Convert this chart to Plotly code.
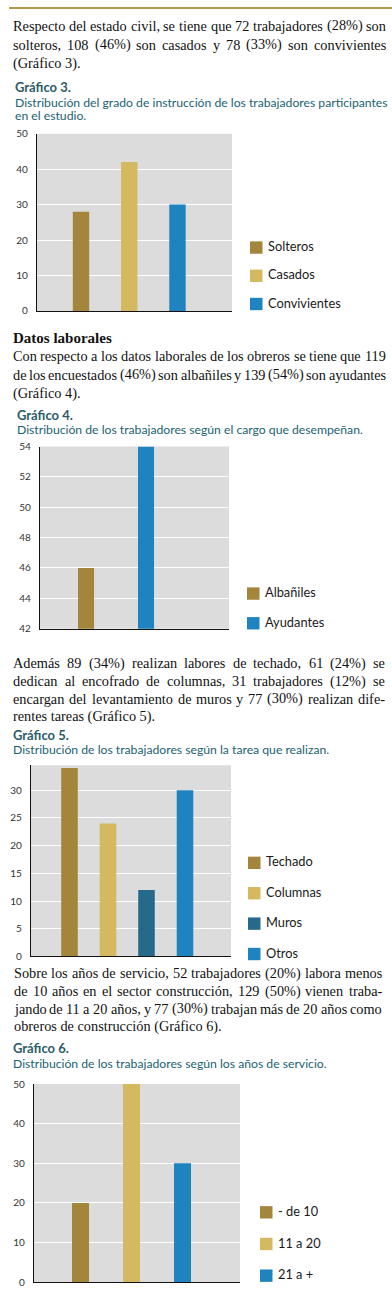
import plotly.graph_objects as go

# ---------------- data ----------------
cats3 = ["Solteros", "Casados", "Convivientes"]
vals3 = [28, 42, 30]
cats4 = ["Albañiles", "Ayudantes"]
vals4 = [46, 54]
cats5 = ["Techado", "Columnas", "Muros", "Otros"]
vals5 = [34, 24, 12, 30]
cats6 = ["- de 10", "11 a 20", "21 a +"]
vals6 = [20, 50, 30]

ticks3 = [0, 10, 20, 30, 40, 50]
ticks4 = [42, 44, 46, 48, 50, 52, 54]
ticks5 = [0, 5, 10, 15, 20, 25, 30]
ticks6 = [0, 10, 20, 30, 40, 50]

p1 = ["Respecto del estado civil, se tiene que 72 trabajadores (28%) son",
      "solteros, 108  (46%) son casados y 78 (33%) son convivientes",
      "(Gráfico 3)."]
p2 = ["Con respecto a los datos laborales de los obreros se tiene que 119",
      "de los encuestados (46%) son albañiles y 139 (54%) son ayudantes",
      "(Gráfico 4)."]
p3 = ["Además 89 (34%) realizan labores de techado, 61 (24%) se",
      "dedican al encofrado de columnas, 31 trabajadores (12%) se",
      "encargan del levantamiento de muros y 77 (30%) realizan dife-",
      "rentes tareas (Gráfico 5)."]
p4 = ["Sobre los años de servicio, 52 trabajadores (20%) labora menos",
      "de 10 años en el sector construcción, 129 (50%) vienen traba-",
      "jando de 11 a 20 años, y 77 (30%) trabajan más de 20 años como",
      "obreros de construcción (Gráfico 6)."]

titles = ["Gráfico 3.", "Gráfico 4.", "Gráfico 5.", "Gráfico 6."]
subtitles = [["Distribución del grado de instrucción de los trabajadores participantes",
              "en el estudio."],
             ["Distribución de los trabajadores según el cargo que desempeñan."],
             ["Distribución de los trabajadores según la tarea que realizan."],
             ["Distribución de los trabajadores según los años de servicio."]]

# ---------------- style ----------------
W, H = 392, 1298
BROWN = "#a3853c"
GOLD = "#d4b961"
BLUE = "#1e83bf"
TEAL = "#27698a"
BG = "#dcdcdd"
SERIF = "Liberation Serif"
SANS = "Lato"
TITLE_C = "#2c5b67"
SUB_C = "#1b6272"
TXT = "#111111"

colors3 = [BROWN, GOLD, BLUE]
colors4 = [BROWN, BLUE]
colors5 = [BROWN, GOLD, TEAL, BLUE]
colors6 = [BROWN, GOLD, BLUE]

# Times metric widths (per 1000 em) used to justify the paragraph lines
TW = {' ': 250, 'a': 444, 'b': 500, 'c': 444, 'd': 500, 'e': 444, 'f': 333, 'g': 500,
      'h': 500, 'i': 278, 'j': 278, 'k': 500, 'l': 278, 'm': 778, 'n': 500, 'o': 500,
      'p': 500, 'q': 500, 'r': 333, 's': 389, 't': 278, 'u': 500, 'v': 500, 'w': 722,
      'x': 500, 'y': 500, 'z': 444, 'á': 444, 'é': 444, 'í': 278, 'ó': 500, 'ú': 500,
      'ñ': 500, '(': 333, ')': 333, '%': 833, ',': 250, '.': 250, '-': 333,
      'A': 722, 'B': 667, 'C': 667, 'D': 722, 'E': 611, 'F': 556, 'G': 722, 'H': 722,
      'I': 333, 'J': 389, 'K': 722, 'L': 611, 'M': 889, 'N': 722, 'O': 722, 'P': 556,
      'Q': 722, 'R': 667, 'S': 556, 'T': 611, 'U': 722, 'V': 722, 'W': 944, 'X': 722,
      'Y': 722, 'Z': 611}


def tw(s, size):
    return sum(TW.get(ch, 500) for ch in s) * size / 1000.0


def px(x):
    return x / W


def py(y):
    return 1 - y / H


annotations = []
shapes = []


def add_text(text, x, y, size, family, color, bold=False):
    if bold:
        text = "<b>" + text + "</b>"
    annotations.append(dict(text=text, x=px(x), y=py(y), xref="paper", yref="paper",
                            xanchor="left", yanchor="middle", showarrow=False,
                            borderpad=0, font=dict(size=size, family=family, color=color)))


def add_paragraph(lines, y0, dy, left, right, size=14.3):
    for i, line in enumerate(lines):
        y = y0 + i * dy
        if i == len(lines) - 1:
            add_text(line, left, y, size, SERIF, TXT)
            continue
        words = line.split()
        widths = [tw(w, size) for w in words]
        gap = (right - left - sum(widths)) / (len(words) - 1)
        x = left
        for w, wd in zip(words, widths):
            add_text(w, x, y, size, SERIF, TXT)
            x += wd + gap


add_paragraph(p1, 19, 19, 12, 385)
add_text("Datos laborales", 12, 334, 15, SERIF, TXT, bold=True)
add_paragraph(p2, 353, 18.7, 12, 385)
add_paragraph(p3, 663, 18, 12, 384)
add_paragraph(p4, 976, 18, 13, 381)

title_y = [81, 412, 735, 1052]
title_x = [14, 16, 12, 12]
for t, ty, tx, subs in zip(titles, title_y, title_x, subtitles):
    add_text(t, tx, ty, 13, SANS, TITLE_C, bold=True)
    for j, s in enumerate(subs):
        add_text(s, tx, ty + 15 + 14 * j, 12.2, SANS, SUB_C)

# chart geometry: (x0, x1, ytop, ybottom)
geo = [(37, 232, 128, 307), (40, 229, 444, 628), (31, 231, 766, 959), (34, 240, 1088, 1288)]
xranges = [[-0.912, 3.13], [-0.767, 2.383], [-1.0, 4.195], [-0.912, 3.127]]
widths = [0.34, 0.267, 0.43, 0.333]
yranges = [[0, 50], [42, 54], [0, 34.5], [0, 50]]
tickv = [ticks3, ticks4, ticks5, ticks6]
cats = [cats3, cats4, cats5, cats6]
vals = [vals3, vals4, vals5, vals6]
cols = [colors3, colors4, colors5, colors6]
# legend: (square left x, first square centre y, step, text x)
legs = [(250, 243, 28.5, 267), (247, 592.5, 30, 264), (248, 864.5, 30.7, 265),
        (260, 1217.5, 32, 277)]
SQ = 12.5

fig = go.Figure()
layout = dict(width=W, height=H, margin=dict(l=0, r=0, t=0, b=0),
              paper_bgcolor="white", plot_bgcolor="white", showlegend=False,
              barmode="overlay")

for k in range(4):
    sfx = "" if k == 0 else str(k + 1)
    for c, v, col in zip(cats[k], vals[k], cols[k]):
        fig.add_trace(go.Bar(x=[c], y=[v], name=c, marker=dict(color=col, line=dict(width=0)),
                             width=widths[k], xaxis="x" + sfx, yaxis="y" + sfx,
                             hoverinfo="skip"))
    x0, x1, yt, yb = geo[k]
    layout["xaxis" + sfx] = dict(domain=[px(x0), px(x1)], anchor="y" + sfx,
                                 range=xranges[k], type="category",
                                 categoryorder="array", categoryarray=cats[k],
                                 showticklabels=False, showgrid=False, zeroline=False,
                                 showline=True, linecolor=TXT, linewidth=1.3,
                                 fixedrange=True)
    layout["yaxis" + sfx] = dict(domain=[py(yb), py(yt)], anchor="x" + sfx,
                                 range=yranges[k], tickvals=tickv[k],
                                 showgrid=True, gridcolor="white", gridwidth=1,
                                 zeroline=False, showline=True, linecolor=TXT,
                                 linewidth=1.3, ticks="", ticklabelstandoff=6,
                                 tickfont=dict(size=10, family=SANS, color="#333333"),
                                 fixedrange=True)
    # grey panel
    shapes.append(dict(type="rect", xref="x" + sfx + " domain", yref="y" + sfx + " domain",
                       x0=0, x1=1, y0=0, y1=1, fillcolor=BG, line=dict(width=0),
                       layer="below"))
    # legend keys built from the category / colour arrays
    lx, ly, step, tx = legs[k]
    for i, (c, col) in enumerate(zip(cats[k], cols[k])):
        cy = ly + i * step
        shapes.append(dict(type="rect", xref="paper", yref="paper",
                           x0=px(lx), x1=px(lx + SQ), y0=py(cy + SQ / 2), y1=py(cy - SQ / 2),
                           fillcolor=col, line=dict(width=0)))
        add_text(c, tx, cy - 1.5, 12.8, SANS, "#1a1a1a")

# gold rule at the top of the page
shapes.append(dict(type="rect", xref="paper", yref="paper", x0=px(9), x1=1, y0=py(2), y1=1,
                   fillcolor="#b59a4e", line=dict(width=0)))

layout["shapes"] = shapes
layout["annotations"] = annotations
fig.update_layout(**layout)

fig.write_html("out.html", config={"displayModeBar": False},
               post_script="document.body.style.margin='0';document.body.style.overflow='hidden';")
